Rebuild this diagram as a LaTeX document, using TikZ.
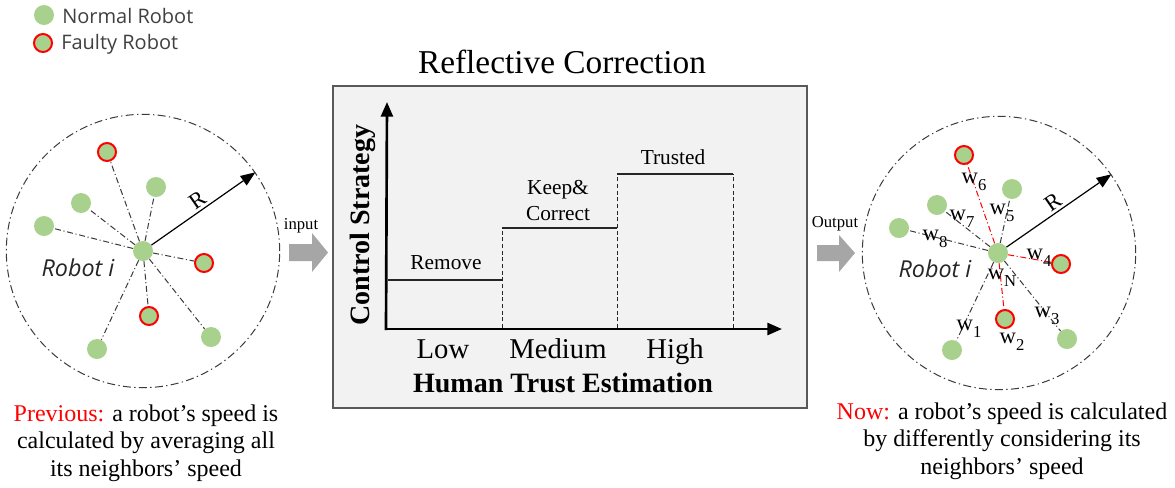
\documentclass[tikz,border=0pt]{standalone}
\usepackage{fontspec}
\setmainfont{Liberation Serif}
\newfontfamily\uisans{Open Sans}
\usetikzlibrary{arrows.meta}
\definecolor{robotgreen}{HTML}{A9D18E}
\definecolor{faultred}{HTML}{FF0000}
\definecolor{boxfill}{HTML}{F2F2F2}
\definecolor{boxline}{HTML}{595959}
\definecolor{blockgray}{HTML}{A6A6A6}
\definecolor{linegray}{HTML}{3A3A3A}
\definecolor{legendgray}{HTML}{404040}
\newcommand{\fsz}[2]{\fontsize{#1}{#2}\selectfont}
\newcommand{\wsub}[1]{w\raisebox{-0.32em}{\fsz{12.5pt}{13pt}#1}}
\begin{document}
\begin{tikzpicture}[x=0.75pt,y=-0.75pt,
  robot/.style={circle,fill=robotgreen,minimum size=15pt,inner sep=0pt},
  faulty/.style={robot,draw=faultred,line width=1.5pt,minimum size=13.5pt},
  link/.style={draw=linegray,line width=0.75pt,dash pattern=on 4.5pt off 2pt on 0.8pt off 2pt},
  faultlink/.style={link,draw=faultred},
  rangecircle/.style={circle,draw=linegray,line width=0.75pt,dash pattern=on 6pt off 2.5pt on 1pt off 2.5pt,minimum size=205pt,inner sep=0pt},
  radiusarrow/.style={draw=black,line width=0.9pt,-{Triangle[length=11pt,width=8.5pt]}},
  legendtext/.style={font=\uisans\fsz{15pt}{18pt},text=legendgray,inner sep=0pt},
  robotlabel/.style={font=\uisans\itshape\fsz{17.5pt}{21pt},text=black!85,inner sep=0pt},
  rlabel/.style={font=\fsz{17pt}{20pt},inner sep=2pt},
  wlabel/.style={font=\fsz{17pt}{18pt},inner sep=0pt},
  steplabel/.style={font=\fsz{16pt}{19.5pt},inner sep=0pt,align=center},
  levellabel/.style={font=\fsz{21.5pt}{25pt},inner sep=0pt},
  axislabel/.style={font=\bfseries\fsz{21pt}{25pt},inner sep=0pt},
  caption/.style={font=\fsz{18pt}{20.6pt},align=center,inner sep=0pt},
  smalllabel/.style={font=\fsz{12.5pt}{14pt},inner sep=0pt},
  axisline/.style={draw=black,line width=2pt,-{Triangle[length=11pt,width=9pt]}},
  levelline/.style={draw=black!85,line width=1.3pt},
  divider/.style={draw=black!85,line width=0.7pt,dash pattern=on 3pt off 2pt},
  blockarrow/.style={fill=blockgray}
]
\useasboundingbox (0,0) rectangle (1175,487);

% legend
\node[robot] (lgN) at (44,15) {};
\node[faulty] (lgF) at (43,43) {};
\node[legendtext,anchor=west] (lgNt) at (62,16) {Normal Robot};
\node[legendtext,anchor=west] (lgFt) at (61,44) {Faulty Robot};

% ---------- left cluster ----------
\node[rangecircle] (LC) at (143,251) {};
\node[robot] (L0) at (143,251) {};
\node[faulty] (L1) at (107,152) {};
\node[robot] (L2) at (156,187) {};
\node[robot] (L3) at (81,203) {};
\node[robot] (L4) at (44,226) {};
\node[faulty] (L5) at (204,263) {};
\node[faulty] (L6) at (149,316) {};
\node[robot] (L7) at (97,349) {};
\node[robot] (L8) at (211,337) {};
\foreach \n in {1,...,8} {\draw[link] (L0) -- (L\n);}
\draw[radiusarrow] (L0) -- (LC.35) node[rlabel,midway,sloped,above] (LR) {R};
\node[robotlabel] (Lri) at (78,268) {Robot i};

% input arrow
\node[smalllabel,anchor=base] (inlab) at (301,229) {input};
\fill[blockarrow] (289,244) -- (312,244) -- (312,233) -- (328,252.5) -- (312,272) -- (312,261) -- (289,261) -- cycle;

% ---------- central box ----------
\node[draw=boxline,fill=boxfill,line width=1pt,minimum width=355.5pt,minimum height=241.5pt,inner sep=0pt] (box) at (570,247) {};
\node[font=\fsz{25pt}{30pt},inner sep=0pt,anchor=base] (title) at (562,73) {Reflective Correction};
\draw[axisline] (386,330) -- (387,102);
\draw[axisline] (386,329) -- (782,329);
\draw[levelline] (388,280) -- (502,280);
\draw[levelline] (502,228) -- (617,228);
\draw[levelline] (617,174) -- (733,174);
\draw[divider] (502,328) -- (502,228);
\draw[divider] (617,328) -- (617,174);
\draw[divider] (733,328) -- (733,174);
\node[steplabel,anchor=base] (remove) at (446,269) {Remove};
\node[steplabel,anchor=base] (keep) at (558,194) {Keep\&};
\node[steplabel,anchor=base] (correct) at (558,220) {Correct};
\node[steplabel,anchor=base] (trusted) at (673,164) {Trusted};
\node[levellabel,anchor=base] (low) at (443,358) {Low};
\node[levellabel,anchor=base] (medium) at (558,358) {Medium};
\node[levellabel,anchor=base] (high) at (675,358) {High};
\node[axislabel,anchor=base] (xlab) at (563,392) {Human Trust Estimation};
\node[axislabel,rotate=90] (ylab) at (363,225) {Control Strategy};

% output arrow
\node[smalllabel,anchor=base] (outlab) at (835,227) {Output};
\fill[blockarrow] (817,245) -- (839,245) -- (839,235) -- (855,253) -- (839,272) -- (839,261) -- (817,261) -- cycle;

% ---------- right cluster ----------
\node[rangecircle] (RC) at (999,253) {};
\node[robot] (R0) at (998,253) {};
\node[faulty] (R1) at (964,155) {};
\node[robot] (R2) at (1012,189) {};
\node[robot] (R3) at (937,205) {};
\node[robot] (R4) at (899,228) {};
\node[faulty] (R5) at (1061,264) {};
\node[faulty] (R6) at (1005,319) {};
\node[robot] (R7) at (952,350) {};
\node[robot] (R8) at (1067,339) {};
\draw[faultlink] (R0) -- (R1);
\draw[link] (R0) -- (R2);
\draw[link] (R0) -- (R3);
\draw[link] (R0) -- (R4);
\draw[faultlink] (R0) -- (R5);
\draw[faultlink] (R0) -- (R6);
\draw[link] (R0) -- (R7);
\draw[link] (R0) -- (R8);
\draw[radiusarrow] (R0) -- (RC.35) node[rlabel,midway,sloped,above] (RR) {R};
\node[robotlabel] (Rri) at (935,269) {Robot i};
\node[wlabel] (w6) at (974,182) {\wsub{6}};
\node[wlabel] (w5) at (1002,213) {\wsub{5}};
\node[wlabel] (w7) at (962,219) {\wsub{7}};
\node[wlabel] (w8) at (935,239) {\wsub{8}};
\node[wlabel] (w4) at (1039,258) {\wsub{4}};
\node[wlabel] (wN) at (1002,278) {\wsub{N}};
\node[wlabel] (w3) at (1047,316) {\wsub{3}};
\node[wlabel] (w1) at (969,329) {\wsub{1}};
\node[wlabel] (w2) at (1012,342) {\wsub{2}};

% ---------- captions ----------
\node[caption] (capL) at (146,443) {\textcolor{faultred}{Previous:} a robot’s speed is\\calculated by averaging all\\its neighbors’ speed};
\node[caption] (capR) at (1002,441) {\textcolor{faultred}{Now:} a robot’s speed is calculated\\by differently considering its\\neighbors’ speed};
\end{tikzpicture}
\end{document}
